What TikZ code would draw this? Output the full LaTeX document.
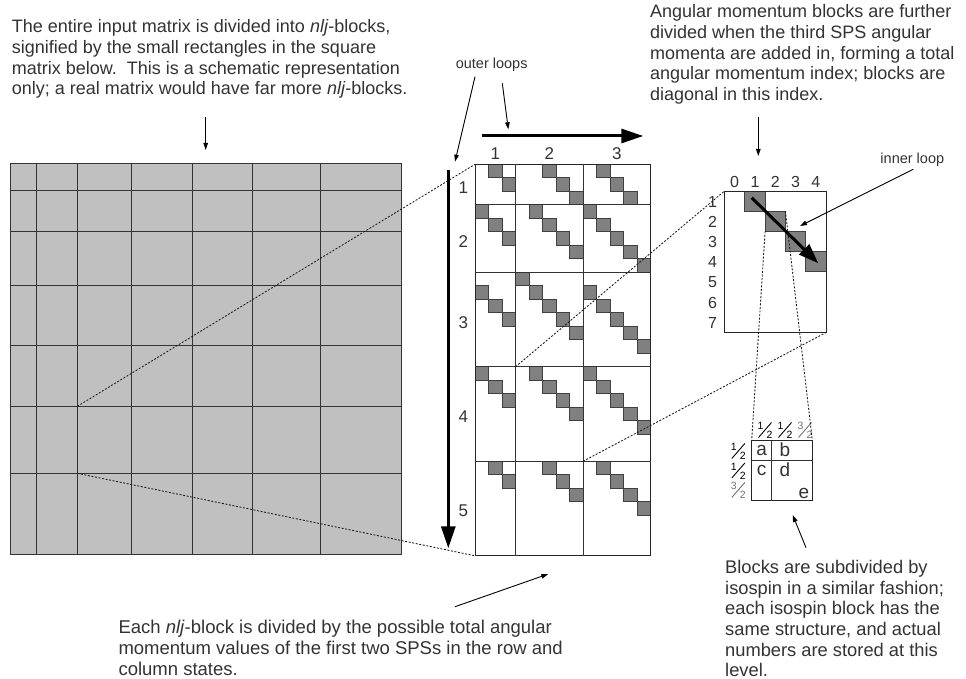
\documentclass[tikz,border=0pt]{standalone}
\usepackage{fontspec}
\setmainfont{Liberation Sans}
\usetikzlibrary{arrows.meta,calc}
\definecolor{txtc}{HTML}{333333}
\definecolor{cellgray}{HTML}{C0C0C0}
\definecolor{sqgray}{HTML}{808080}
\newcommand\isofrac[5]{%
  \coordinate (#1) at #2;
  \draw[line width=0.9pt,#5] ($(#1)+(-6.5,7.5)$) -- ($(#1)+(6.5,-7.5)$);
  \node[font=\fontsize{10.5}{11}\selectfont, inner sep=0, text=#5] (#1n) at ($(#1)+(-4.5,-4)$) {#3};
  \node[font=\fontsize{10.5}{11}\selectfont, inner sep=0, text=#5] (#1d) at ($(#1)+(4.5,5)$) {#4};
}
\begin{document}
\begin{tikzpicture}[x=1pt,y=-1pt,
  para/.style={text=txtc, font=\fontsize{18.3}{20.7}\selectfont, align=left, anchor=north west, inner sep=0pt},
  lbl/.style={text=txtc, font=\fontsize{14.5}{16}\selectfont, inner sep=0pt},
  idx/.style={text=txtc, font=\fontsize{17}{18}\selectfont, inner sep=0pt},
  sidx/.style={text=txtc, font=\fontsize{16}{17}\selectfont, inner sep=0pt},
  cell/.style={text=txtc, font=\fontsize{19}{20}\selectfont, inner sep=0pt},
  thinarrow/.style={-{Triangle[length=7pt,width=4.5pt]}, line width=0.9pt, draw=black},
  bigarrow/.style={-{Triangle[length=22pt,width=14pt]}, line width=3pt, draw=black},
  dots/.style={dash pattern=on 2pt off 1.6pt, line width=0.85pt, draw=black!90},
  gridline/.style={line width=0.9pt, draw=black!80},
  sq/.style={fill=sqgray, draw=black!75, line width=0.7pt},
]
\useasboundingbox (0,0) rectangle (966,679);
\fill[white] (0,0) rectangle (966,679);

% ---------------- texts ----------------
\node[para, font=\fontsize{18}{20.7}\selectfont] (t1) at (11.7,19.4) {The entire input matrix is divided into \textit{nlj}-blocks,\\
signified by the small rectangles in the square\\
matrix below.\ \ This is a schematic representation\\
only; a real matrix would have far more \textit{nlj}-blocks.};
\node[para, font=\fontsize{18}{20.7}\selectfont] (t2) at (650,4.5) {Angular momentum blocks are further\\
divided when the third SPS angular\\
momenta are added in, forming a total\\
angular momentum index; blocks are\\
diagonal in this index.};
\node[para] (t3) at (725,560) {Blocks are subdivided by\\
isospin in a similar fashion;\\
each isospin block has the\\
same structure, and actual\\
numbers are stored at this\\
level.};
\node[para, font=\fontsize{18.5}{20.7}\selectfont] (t4) at (118.3,620) {Each \textit{nlj}-block is divided by the possible total angular\\
momentum values of the first two SPSs in the row and\\
column states.};
\node[lbl] (outer) at (491.7,64.3) {outer loops};
\node[lbl] (inner) at (912.3,159.5) {inner loop};

% ---------------- left matrix ----------------
\node[fill=cellgray, draw=black!80, line width=0.9pt, inner sep=0, outer sep=0,
      minimum width=391pt, minimum height=391pt, anchor=north west] (L) at (10,163.3) {};
\foreach \x in {36.7,77.3,131.3,192,252.7,320.3}
  \draw[gridline] (\x,163.3) -- (\x,554.3);
\foreach \y in {190.3,231,285,345.3,406.3,473.3}
  \draw[gridline] (10,\y) -- (401,\y);
\coordinate (Lc1) at (77.3,406.3);
\coordinate (Lc2) at (77.3,473.3);

% ---------------- middle matrix ----------------
\def\mx{475}\def\my{164.3}\def\mu{13.5}
\foreach \c/\r in {1/0,2/1, 5/0,6/1,7/2, 9/0,10/1,11/2,
                   0/3,1/4,2/5, 4/3,5/4,6/5,7/6, 8/3,9/4,10/5,11/6,12/7,
                   0/9,1/10,2/11, 3/8,4/9,5/10,6/11,7/12, 8/9,9/10,10/11,11/12,12/13,
                   0/15,1/16,2/17, 4/15,5/16,6/17,7/18, 8/15,9/16,10/17,11/18,12/19,
                   1/22,2/23, 5/22,6/23,7/24, 9/22,10/23,11/24,12/25}
  \draw[sq] (\mx+\c*\mu,\my+\r*\mu) rectangle ++(\mu,\mu);
\node[draw=black!85, line width=0.9pt, inner sep=0, outer sep=0,
      minimum width=175.5pt, minimum height=391.5pt, anchor=north west] (M) at (\mx,\my) {};
\foreach \x in {515.5,583}
  \draw[gridline] (\x,\my) -- (\x,555.8);
\foreach \y in {204.8,272.3,366.8,461.3}
  \draw[gridline] (\mx,\y) -- (650.5,\y);
\coordinate (Mc1) at (515.5,366.8);
\coordinate (Mc2) at (583,461.3);

\foreach \t/\x in {1/495.3,2/549.3,3/616.8}
  \node[idx] (col\t) at (\x,153.5) {\t};
\foreach \t/\y in {1/188,2/241.5,3/322.5,4/417,5/511}
  \node[idx] (row\t) at (463.3,\y) {\t};

% big arrows
\coordinate (ha0) at (481.7,136);
\coordinate (ha1) at (643.3,136);
\draw[bigarrow] (ha0) -- (ha1);
\coordinate (va0) at (448.3,170);
\coordinate (va1) at (448.3,548.3);
\draw[bigarrow] (va0) -- (va1);

% ---------------- right matrix ----------------
\def\rx{724.5}\def\ry{191}
\foreach \i in {1,2,3,4}
  \draw[sq, line width=0.8pt] (\rx+\i*20.3,\ry+\i*20.2-20.2) rectangle ++(20.3,20.2);
\node[draw=black!85, line width=0.9pt, inner sep=0, outer sep=0,
      minimum width=101.5pt, minimum height=141.5pt, anchor=north west] (R) at (\rx,\ry) {};
\foreach \t in {0,...,4}
  \node[sidx] (rc\t) at (\rx+10.15+\t*20.3,182) {\t};
\foreach \t in {1,...,7}
  \node[sidx] (rr\t) at (712.5,\ry+\t*20.2-9.5) {\t};
\coordinate (Rs2bl) at (765.1,231.4);
\coordinate (Rs2tr) at (785.4,211.2);
\coordinate (ia0) at (751.7,197.7);
\coordinate (ia1) at (818.3,263.3);
\draw[-{Triangle[length=20pt,width=14pt]}, line width=3pt] (ia0) -- (ia1);

% ---------------- isospin table ----------------
\node[draw=black!85, line width=0.9pt, inner sep=0, outer sep=0,
      minimum width=60.6pt, minimum height=60.7pt, anchor=north west] (T) at (751.7,440) {};
\draw[gridline] (771.7,440) -- (771.7,500.7);
\draw[gridline] (751.7,460.7) -- (812.3,460.7);
\node[cell] (ca) at (761.7,450.3) {a};
\node[cell] (cb) at (785,449.3) {b};
\node[cell] (cc) at (761.7,470.3) {c};
\node[cell] (cd) at (785,469.3) {d};
\node[cell] (ce) at (804,493) {e};
\isofrac{f1}{(765,430)}{1}{2}{black}
\isofrac{f2}{(785,430)}{1}{2}{black}
\isofrac{f3}{(805,430)}{3}{2}{black!55}
\isofrac{g1}{(738.3,451)}{1}{2}{black}
\isofrac{g2}{(738.3,470.5)}{1}{2}{black}
\isofrac{g3}{(738.3,490)}{3}{2}{black!55}

% ---------------- dotted connectors ----------------
\draw[dots] (Lc1) -- (M.north west);
\draw[dots] (Lc2) -- (M.south west);
\draw[dots] (Mc1) -- (R.north west);
\draw[dots] (Mc2) -- (R.south east);
\draw[dots] (Rs2bl) -- (T.north west);
\draw[dots] (Rs2tr) -- (T.north east);

% ---------------- thin arrows ----------------
\coordinate (a1s) at (205.7,116.7); \coordinate (a1e) at (205.7,150);
\draw[thinarrow] (a1s) -- (a1e);
\coordinate (o1e) at (455,161.7);
\draw[thinarrow] (475,76.7) -- (o1e);
\coordinate (o2e) at (508.3,129.3);
\draw[thinarrow] (502.3,83.3) -- (o2e);
\coordinate (a2s) at (758.3,116.7); \coordinate (a2e) at (758.3,156);
\draw[thinarrow] (a2s) -- (a2e);
\coordinate (i1s) at (913.3,169.3); \coordinate (i1e) at (800,226);
\draw[thinarrow] (i1s) -- (i1e);
\coordinate (b1s) at (455,606.7); \coordinate (b1e) at (548.3,574);
\draw[thinarrow] (b1s) -- (b1e);
\coordinate (b2s) at (806,547.7); \coordinate (b2e) at (792.7,515);
\draw[thinarrow] (b2s) -- (b2e);
\end{tikzpicture}
\end{document}
